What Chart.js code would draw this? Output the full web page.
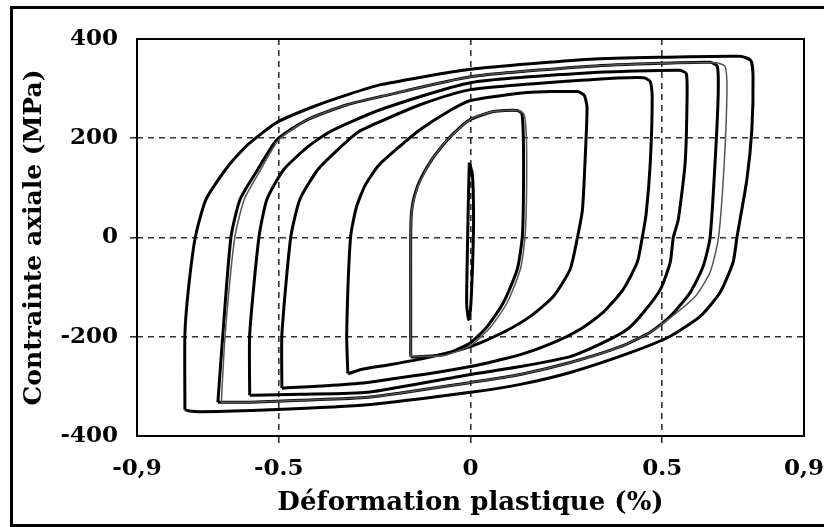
<!DOCTYPE html>
<html>
<head>
<meta charset="utf-8">
<script src="https://cdn.jsdelivr.net/npm/chart.js@4/dist/chart.umd.min.js"></script>
<style>
  html, body { margin: 0; padding: 0; background: #fff; }
  #wrap { position: relative; width: 824px; height: 527px; overflow: hidden; }
  #frame { position: absolute; left: 10px; top: 6px; width: 830px; height: 515px; border: 3px solid #000; }
  #chart { position: absolute; left: 0; top: 0; }
</style>
</head>
<body>
<div id="wrap">
  <canvas id="chart" width="824" height="527"></canvas>
  <div id="frame"></div>
</div>
<script>
// axis ticks (edge labels sit on the plot border)
var xTickValues = [-0.87, -0.5, 0, 0.5, 0.87];
var xTickLabels = ["-0,9", "-0.5", "0", "0.5", "0,9"];
var yTickValues = [-400, -200, 0, 200, 400];

// hysteresis loops, [plastic strain %, stress MPa]
var loopTiny = [
  [-0.003, 151], [0.005, 127], [0.008, 36], [0.005, -64], [0, -145],
  [-0.005, -165], [-0.010, -135], [-0.008, -24], [-0.005, 97], [-0.003, 151]
];
var loop015 = [
  [-0.156, -240], [-0.156, -125], [-0.156, 0], [-0.154, 50], [-0.146, 85],
  [-0.130, 118], [-0.100, 158], [-0.060, 197], [-0.030, 220], [0, 238],
  [0.060, 254], [0.122, 256], [0.134, 250], [0.138, 197], [0.138, 77],
  [0.135, 0], [0.122, -64], [0.086, -131], [0.044, -179], [0, -212],
  [-0.070, -236], [-0.130, -240], [-0.150, -241], [-0.156, -240]
];
var loop015b = [
  [-0.156, -240], [-0.156, 0], [-0.152, 60], [-0.136, 105], [-0.100, 158],
  [-0.060, 197], [0, 238], [0.060, 254], [0.125, 256], [0.140, 248],
  [0.146, 197], [0.146, 77], [0.142, 0], [0.130, -64], [0.096, -131],
  [0.052, -181], [0, -218], [-0.070, -238], [-0.156, -240]
];
var loop030 = [
  [-0.320, -274], [-0.323, -195], [-0.313, 0], [-0.298, 60], [-0.275, 105],
  [-0.240, 145], [-0.190, 180], [-0.130, 218], [-0.060, 253], [0, 276],
  [0.148, 292], [0.279, 294], [0.297, 286], [0.304, 262], [0.299, 157],
  [0.292, 56], [0.279, 0], [0.260, -64], [0.216, -119], [0.156, -159],
  [0.086, -191], [0, -220], [-0.112, -242], [-0.208, -256], [-0.286, -266],
  [-0.313, -273], [-0.320, -274]
];
var loop047 = [
  [-0.492, -304], [-0.492, -195], [-0.469, 0], [-0.445, 77], [-0.398, 137],
  [-0.346, 177], [-0.294, 212], [-0.234, 234], [-0.130, 268], [0, 298],
  [0.313, 318], [0.452, 322], [0.469, 314], [0.474, 284], [0.469, 151],
  [0.458, 46], [0.448, 0], [0.435, -50], [0.398, -105], [0.346, -151],
  [0.286, -185], [0.216, -212], [0.130, -236], [0, -260], [-0.268, -292],
  [-0.365, -298], [-0.480, -303], [-0.492, -304]
];
var loop056 = [
  [-0.576, -318], [-0.576, -195], [-0.552, 0], [-0.531, 77], [-0.487, 137],
  [-0.424, 183], [-0.365, 214], [-0.234, 258], [0, 312], [0.313, 332],
  [0.545, 337], [0.563, 330], [0.565, 284], [0.560, 151], [0.542, 36],
  [0.529, 0], [0.521, -50], [0.495, -105], [0.451, -151], [0.409, -185],
  [0.346, -212], [0.260, -240], [0.130, -260], [0, -276], [-0.268, -312],
  [-0.443, -316], [-0.565, -318], [-0.576, -318]
];
var loop065 = [
  [-0.659, -332], [-0.646, -195], [-0.625, 0], [-0.601, 77], [-0.555, 137],
  [-0.505, 197], [-0.424, 238], [-0.320, 268], [-0.234, 284], [0, 324],
  [0.313, 345], [0.495, 351], [0.625, 353], [0.644, 345], [0.646, 284],
  [0.638, 151], [0.625, 0], [0.607, -58], [0.573, -111], [0.521, -159],
  [0.469, -191], [0.391, -220], [0.260, -252], [0.130, -276], [0, -292],
  [-0.268, -322], [-0.443, -328], [-0.573, -332], [-0.650, -332], [-0.659, -332]
];
var loop065b = [
  [-0.650, -332], [-0.640, -195], [-0.615, 0], [-0.590, 77], [-0.547, 137],
  [-0.500, 197], [-0.424, 238], [-0.320, 268], [-0.234, 284], [0, 324],
  [0.313, 345], [0.495, 351], [0.640, 352], [0.664, 345], [0.669, 300],
  [0.662, 151], [0.647, 0], [0.625, -70], [0.585, -120], [0.521, -162],
  [0.469, -191], [0.391, -220], [0.260, -252], [0.130, -276], [0, -292],
  [-0.268, -322], [-0.443, -328], [-0.573, -332], [-0.650, -332]
];
var loop074 = [
  [-0.745, -347], [-0.745, -195], [-0.736, -105], [-0.718, 0], [-0.690, 77],
  [-0.633, 143], [-0.581, 187], [-0.505, 232], [-0.409, 264], [-0.320, 288],
  [-0.234, 308], [0, 339], [0.313, 359], [0.492, 363], [0.703, 365],
  [0.731, 357], [0.737, 328], [0.734, 218], [0.721, 117], [0.695, 0],
  [0.685, -50], [0.651, -111], [0.599, -159], [0.521, -199], [0.417, -232],
  [0.260, -272], [0.130, -296], [0, -312], [-0.268, -337], [-0.521, -347],
  [-0.703, -351], [-0.737, -349], [-0.745, -347]
];

// thin grey repeat cycles first, then the thick main loops
var greyLoops = [loop015b, loop065b];
var loops = [loopTiny, loop015, loop030, loop047, loop056, loop065, loop074];

(function () {
  var serif = "'DejaVu Serif', 'Liberation Serif', serif";

  function toPoints(arr) {
    var out = [];
    for (var i = 0; i < arr.length; i++) {
      out.push({ x: arr[i][0], y: arr[i][1] });
    }
    return out;
  }

  var datasets = [];
  for (var g = 0; g < greyLoops.length; g++) {
    datasets.push({
      data: toPoints(greyLoops[g]),
      showLine: true,
      borderColor: "#555",
      borderWidth: 1.5,
      pointRadius: 0,
      tension: 0.2,
      fill: false,
    });
  }
  for (var i = 0; i < loops.length; i++) {
    datasets.push({
      data: toPoints(loops[i]),
      showLine: true,
      borderColor: "#000",
      borderWidth: 3,
      pointRadius: 0,
      tension: 0.2,
      fill: false,
    });
  }

  var plotBox = {
    id: "plotBox",
    beforeDatasetsDraw: function (chart) {
      var a = chart.chartArea;
      var ctx = chart.ctx;
      ctx.save();
      ctx.strokeStyle = "#000";
      ctx.lineWidth = 2;
      ctx.setLineDash([]);
      ctx.strokeRect(a.left, a.top, a.right - a.left, a.bottom - a.top);
      ctx.restore();
    },
  };

  function gridColor(edges) {
    return function (c) {
      if (!c.tick) return "rgba(0,0,0,0)";
      return edges.indexOf(c.tick.value) >= 0 ? "rgba(0,0,0,0)" : "#333";
    };
  }

  new Chart(document.getElementById("chart"), {
    type: "scatter",
    data: { datasets: datasets },
    plugins: [plotBox],
    options: {
      responsive: false,
      animation: false,
      layout: { padding: { left: 0, top: 39, right: 20, bottom: 0 } },
      plugins: { legend: { display: false }, tooltip: { enabled: false } },
      scales: {
        x: {
          type: "linear",
          min: -0.87,
          max: 0.87,
          afterBuildTicks: function (s) {
            s.ticks = xTickValues.map(function (v) { return { value: v }; });
          },
          afterFit: function (s) {
            s.height = 91;
            s.paddingLeft = 0;
            s.paddingRight = 0;
          },
          ticks: {
            autoSkip: false,
            maxRotation: 0,
            padding: 12,
            color: "#000",
            font: { family: serif, size: 23, weight: "bold" },
            callback: function (v, i) { return xTickLabels[i]; },
          },
          grid: { color: gridColor([-0.87, 0.87]), lineWidth: 1.6, tickLength: 7 },
          border: { display: false, dash: [6, 5] },
          title: {
            display: true,
            text: "Déformation plastique (%)",
            color: "#000",
            font: { family: serif, size: 26, weight: "bold" },
            padding: { top: 0, bottom: 8 },
          },
        },
        y: {
          type: "linear",
          min: -400,
          max: 400,
          afterBuildTicks: function (s) {
            s.ticks = yTickValues.map(function (v) { return { value: v }; });
          },
          afterFit: function (s) {
            s.width = 137;
            s.paddingTop = 0;
            s.paddingBottom = 0;
          },
          ticks: {
            padding: 12,
            color: "#000",
            font: { family: serif, size: 23, weight: "bold" },
          },
          grid: { color: gridColor([-400, 400]), lineWidth: 1.6, tickLength: 7 },
          border: { display: false, dash: [6, 5] },
          title: {
            display: true,
            text: "Contrainte axiale (MPa)",
            color: "#000",
            font: { family: serif, size: 25, weight: "bold" },
            padding: { top: 19, bottom: 0 },
          },
        },
      },
    },
  });
})();
</script>
</body>
</html>
